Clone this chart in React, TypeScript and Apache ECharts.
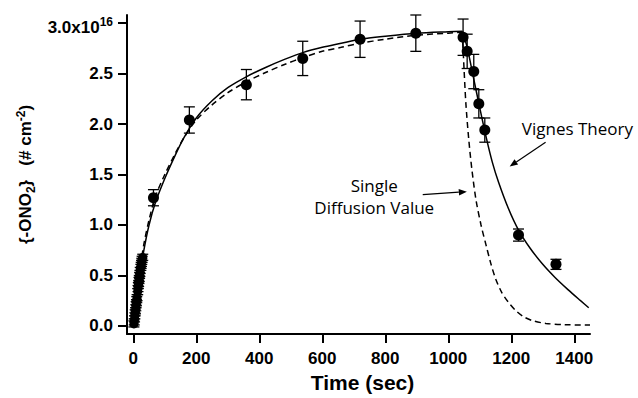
import { useEffect, useRef } from 'react';
import * as echarts from 'echarts';

// ---- Data ----
const clusterTime = [2, 3, 4, 5, 6, 7, 8, 9, 10, 11, 12, 14, 15, 16, 17, 18, 19, 20, 21, 22, 24, 25, 26, 27, 28, 30];
const clusterValue = [0.02, 0.04, 0.07, 0.10, 0.13, 0.15, 0.18, 0.21, 0.23, 0.26, 0.28, 0.34, 0.37, 0.40, 0.42, 0.45, 0.47, 0.50, 0.52, 0.55, 0.58, 0.60, 0.62, 0.64, 0.66, 0.68];
const clusterError = 0.03;

const pointTime = [64, 178, 359, 538, 720, 897, 1047, 1060, 1081, 1097, 1116, 1223, 1342];
const pointValue = [1.27, 2.04, 2.39, 2.65, 2.84, 2.90, 2.86, 2.72, 2.52, 2.20, 1.94, 0.90, 0.61];
const pointError = [0.08, 0.13, 0.15, 0.17, 0.18, 0.18, 0.18, 0.17, 0.17, 0.14, 0.12, 0.06, 0.05];

// Vignes theory (solid): uptake then desorption
const vignesRiseTime = [0, 10, 20, 33, 50, 70, 100, 130, 160, 200, 250, 300, 360, 420, 480, 540, 600, 660, 720, 800, 900, 1000, 1045];
const vignesRiseValue = [0, 0.25, 0.48, 0.74, 1.00, 1.22, 1.46, 1.67, 1.86, 2.06, 2.23, 2.36, 2.47, 2.56, 2.64, 2.71, 2.76, 2.80, 2.84, 2.87, 2.90, 2.915, 2.92];
const vignesDecayTime = [1045, 1060, 1080, 1100, 1121, 1140, 1160, 1190, 1223, 1260, 1300, 1339, 1380, 1420, 1446];
const vignesDecayValue = [2.92, 2.76, 2.46, 2.16, 1.86, 1.62, 1.42, 1.17, 0.95, 0.77, 0.61, 0.48, 0.36, 0.25, 0.18];

// Single diffusion value (dashed)
const singleRiseTime = [0, 10, 20, 33, 50, 70, 100, 130, 160, 200, 250, 300, 360, 420, 480, 540, 600, 660, 720, 800, 900, 1000, 1042];
const singleRiseValue = [0, 0.28, 0.53, 0.80, 1.05, 1.28, 1.50, 1.69, 1.86, 2.04, 2.19, 2.31, 2.42, 2.51, 2.59, 2.66, 2.72, 2.76, 2.80, 2.84, 2.88, 2.90, 2.91];
const singleDecayTime = [1042, 1046, 1050, 1056, 1065, 1075, 1088, 1104, 1120, 1135, 1150, 1170, 1192, 1215, 1240, 1270, 1310, 1370, 1450];
const singleDecayValue = [2.91, 2.80, 2.55, 2.20, 1.85, 1.55, 1.25, 1.00, 0.80, 0.62, 0.47, 0.33, 0.23, 0.15, 0.09, 0.05, 0.025, 0.012, 0.008];

const xTicks = [0, 200, 400, 600, 800, 1000, 1200, 1400];
const yTicks = [0, 0.5, 1.0, 1.5, 2.0, 2.5, 3.0];

const xTitle = 'Time (sec)';
const vignesLabel = 'Vignes Theory';
const singleLabel = ['Single', 'Diffusion Value'];

const FONT = '"Liberation Sans", Arial, sans-serif';
const NOTE_FONT = '"Open Sans", sans-serif';

const pairs = (ts: number[], vs: number[]) => ts.map((t, i) => [t, vs[i]]);

export default function App() {
  const ref = useRef<HTMLDivElement>(null);

  useEffect(() => {
    const chart = echarts.init(ref.current!, null, { renderer: 'svg' });

    const errData = [
      ...clusterTime.map((t, i) => [t, clusterValue[i], clusterError]),
      ...pointTime.map((t, i) => [t, pointValue[i], pointError[i]]),
    ];

    const solidStyle = { color: '#000', width: 1.5 };
    const dashStyle = { color: '#000', width: 1.5, type: [6, 4] };
    const lineSeries = (name: string, data: number[][], lineStyle: any) => ({
      name,
      type: 'line',
      data,
      showSymbol: false,
      smooth: 0.3,
      lineStyle,
      z: 2,
    });

    chart.setOption({
      animation: false,
      backgroundColor: '#ffffff',
      grid: { left: 127, right: 48, top: 15, bottom: 63 },
      xAxis: {
        type: 'value',
        min: -20,
        max: 1450,
        splitLine: { show: false },
        axisLine: { show: true, onZero: false, lineStyle: { color: '#000', width: 2 } },
        axisTick: { show: true, inside: false, length: 9, lineStyle: { color: '#000', width: 2 }, customValues: xTicks },
        axisLabel: {
          customValues: xTicks,
          margin: 16,
          color: '#000',
          fontFamily: FONT,
          fontWeight: 700,
          fontSize: 17,
          formatter: (v: number) => String(v),
        },
        name: xTitle,
        nameLocation: 'middle',
        nameGap: 38,
        nameTextStyle: { color: '#000', fontFamily: FONT, fontWeight: 700, fontSize: 21, padding: [0, 0, 0, 8] },
      },
      yAxis: {
        type: 'value',
        min: -0.08,
        max: 3.08,
        splitLine: { show: false },
        axisLine: { show: true, onZero: false, lineStyle: { color: '#000', width: 2 } },
        axisTick: { show: true, inside: false, length: 9, lineStyle: { color: '#000', width: 2 }, customValues: yTicks },
        axisLabel: {
          customValues: yTicks,
          margin: 14,
          color: '#000',
          fontFamily: FONT,
          fontWeight: 700,
          fontSize: 17,
          formatter: (v: number) => (Math.abs(v - 3) < 1e-9 ? '{a|3.0x10}{s|16}' : v.toFixed(1)),
          rich: {
            a: { color: '#000', fontFamily: FONT, fontWeight: 700, fontSize: 17, lineHeight: 18, padding: [8, 0, 0, 0] },
            s: { color: '#000', fontFamily: FONT, fontWeight: 700, fontSize: 12, lineHeight: 12, verticalAlign: 'top', padding: [2, 0, 0, 0] },
          },
        },
        name: '{-ONO{sub|2}}   (# cm{sup|-2})',
        nameLocation: 'middle',
        nameRotate: 90,
        nameGap: 86,
        nameTextStyle: {
          color: '#000',
          fontFamily: FONT,
          fontWeight: 700,
          fontSize: 17,
          lineHeight: 22,
          rich: {
            sub: { color: '#000', fontFamily: FONT, fontWeight: 700, fontSize: 12, lineHeight: 12, verticalAlign: 'bottom' },
            sup: { color: '#000', fontFamily: FONT, fontWeight: 700, fontSize: 12, lineHeight: 12, verticalAlign: 'top' },
          },
        },
      },
      series: [
        lineSeries('Single Diffusion Value', pairs(singleRiseTime, singleRiseValue), dashStyle),
        lineSeries('Single Diffusion Value decay', pairs(singleDecayTime, singleDecayValue), dashStyle),
        lineSeries('Vignes Theory', pairs(vignesRiseTime, vignesRiseValue), solidStyle),
        lineSeries('Vignes Theory decay', pairs(vignesDecayTime, vignesDecayValue), solidStyle),
        {
          name: 'error',
          type: 'custom',
          data: errData,
          z: 3,
          renderItem: (params: any, api: any) => {
            const t = api.value(0);
            const v = api.value(1);
            const e = api.value(2);
            const top = api.coord([t, v + e]);
            const bot = api.coord([t, v - e]);
            const hw = 5.5;
            const style = { stroke: '#000', lineWidth: 1.3 };
            return {
              type: 'group',
              children: [
                { type: 'line', shape: { x1: top[0], y1: top[1], x2: bot[0], y2: bot[1] }, style },
                { type: 'line', shape: { x1: top[0] - hw, y1: top[1], x2: top[0] + hw, y2: top[1] }, style },
                { type: 'line', shape: { x1: bot[0] - hw, y1: bot[1], x2: bot[0] + hw, y2: bot[1] }, style },
              ],
            };
          },
        },
        {
          name: 'cluster',
          type: 'scatter',
          data: pairs(clusterTime, clusterValue),
          symbol: 'circle',
          symbolSize: 9,
          itemStyle: { color: '#000', opacity: 1 },
          z: 4,
        },
        {
          name: 'points',
          type: 'scatter',
          data: pairs(pointTime, pointValue),
          symbol: 'circle',
          symbolSize: 11,
          itemStyle: { color: '#000', opacity: 1 },
          z: 4,
        },
      ],
    });

    // Annotations anchored at data coordinates
    const px = (t: number, v: number) => chart.convertToPixel({ gridIndex: 0 }, [t, v]) as number[];
    const arrow = (from: number[], to: number[]) => {
      const ang = Math.atan2(to[1] - from[1], to[0] - from[0]);
      const L = 8;
      const W = 3.2;
      const bx = to[0] - L * Math.cos(ang);
      const by = to[1] - L * Math.sin(ang);
      const nx = -Math.sin(ang) * W;
      const ny = Math.cos(ang) * W;
      return [
        { type: 'line', shape: { x1: from[0], y1: from[1], x2: bx, y2: by }, style: { stroke: '#000', lineWidth: 1.2 } },
        { type: 'polygon', shape: { points: [[to[0], to[1]], [bx + nx, by + ny], [bx - nx, by - ny]] }, style: { fill: '#000' } },
      ];
    };
    const vText = px(1410, 1.96);
    const sText1 = px(765, 1.39);
    const sText2 = px(765, 1.17);
    const noteStyle = { fill: '#000', font: `17px ${NOTE_FONT}`, align: 'center', verticalAlign: 'middle' };
    chart.setOption({
      graphic: [
        { type: 'text', x: vText[0], y: vText[1], style: { ...noteStyle, text: vignesLabel } },
        { type: 'text', x: sText1[0], y: sText1[1], style: { ...noteStyle, text: singleLabel[0] } },
        { type: 'text', x: sText2[0], y: sText2[1], style: { ...noteStyle, text: singleLabel[1] } },
        ...arrow(px(1309, 1.82), px(1195, 1.58)),
        ...arrow(px(919, 1.30), px(1059, 1.33)),
      ],
    });

    return () => chart.dispose();
  }, []);

  return <div ref={ref} style={{ position: 'fixed', left: 0, top: 0, width: 638, height: 398, background: '#fff' }} />;
}
